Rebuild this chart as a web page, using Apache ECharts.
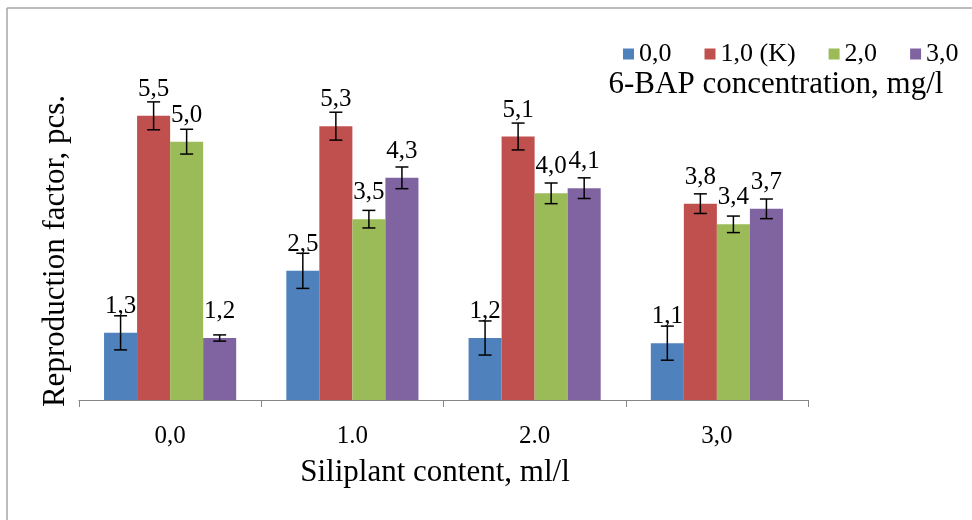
<!DOCTYPE html>
<html>
<head>
<meta charset="utf-8">
<script src="https://cdn.jsdelivr.net/npm/echarts@6/dist/echarts.min.js"></script>
<style>html,body{margin:0;padding:0;background:#fff}#c{width:972px;height:520px}</style>
</head>
<body>
<div id="c"></div>
<script>
const categories = ['0,0', '1.0', '2.0', '3,0'];
const seriesNames = ['0,0', '1,0 (K)', '2,0', '3,0'];
const vals0 = [1.3, 2.5, 1.2, 1.1];
const vals1 = [5.5, 5.3, 5.1, 3.8];
const vals2 = [5.0, 3.5, 4.0, 3.4];
const vals3 = [1.2, 4.3, 4.1, 3.7];
const err0 = [0.33, 0.34, 0.33, 0.33];
const err1 = [0.27, 0.27, 0.26, 0.19];
const err2 = [0.24, 0.17, 0.20, 0.16];
const err3 = [0.06, 0.21, 0.20, 0.19];

const values = [vals0, vals1, vals2, vals3];
const errors = [err0, err1, err2, err3];
const colors = ['#4F81BD', '#C0504D', '#9BBB59', '#8064A2'];
const GAP = 0.275;
const SERIF = '"Liberation Serif", "Times New Roman", serif';

function errRender(si) {
  return function (params, api) {
    const cat = api.value(0);
    const lo = api.coord([cat, api.value(1)]);
    const hi = api.coord([cat, api.value(2)]);
    const catW = api.size([1, 0])[0];
    const bw = catW * (1 - GAP) / 4;
    const x = lo[0] - 2 * bw + (si + 0.5) * bw;
    const cap = 6.5;
    const st = { stroke: '#000', lineWidth: 1.5 };
    return {
      type: 'group',
      children: [
        { type: 'line', shape: { x1: x, y1: hi[1], x2: x, y2: lo[1] }, style: st },
        { type: 'line', shape: { x1: x - cap, y1: hi[1], x2: x + cap, y2: hi[1] }, style: st },
        { type: 'line', shape: { x1: x - cap, y1: lo[1], x2: x + cap, y2: lo[1] }, style: st }
      ]
    };
  };
}

const series = [];
values.forEach((v, si) => {
  series.push({
    type: 'bar',
    name: seriesNames[si],
    data: v,
    barGap: '0%',
    barCategoryGap: (GAP * 100) + '%',
    itemStyle: { color: colors[si] },
    label: {
      show: true,
      position: 'top',
      distance: 14,
      color: '#000',
      fontFamily: SERIF,
      fontSize: 25,
      formatter: p => p.value.toFixed(1).replace('.', ',')
    }
  });
});
values.forEach((v, si) => {
  series.push({
    type: 'custom',
    name: seriesNames[si] + ' err',
    renderItem: errRender(si),
    data: v.map((val, i) => [i, val - errors[si][i], val + errors[si][i]]),
    encode: { x: 0, y: [1, 2] },
    z: 10,
    silent: true
  });
});

const chart = echarts.init(document.getElementById('c'));
chart.setOption({
  animation: false,
  backgroundColor: '#fff',
  grid: { left: 79, right: 164, top: 90, bottom: 120, containLabel: false },
  legend: {
    data: seriesNames,
    left: 618,
    top: 36,
    icon: 'rect',
    itemWidth: 11,
    itemHeight: 11,
    itemGap: 33,
    textStyle: { fontFamily: SERIF, fontSize: 26, color: '#000' }
  },
  xAxis: {
    type: 'category',
    data: categories,
    axisLine: { lineStyle: { color: '#868686', width: 1 } },
    axisTick: { show: true, length: 7, lineStyle: { color: '#868686' } },
    axisLabel: { margin: 24, color: '#000', fontFamily: SERIF, fontSize: 25 },
    splitLine: { show: false }
  },
  yAxis: {
    type: 'value',
    min: 0,
    max: 6,
    interval: 1,
    axisLine: { show: false },
    axisTick: { show: false },
    axisLabel: { show: false },
    splitLine: { show: false }
  },
  graphic: [
    { type: 'line', shape: { x1: 7, y1: 8, x2: 972, y2: 8 }, style: { stroke: '#a6a6a6', lineWidth: 1.5 } },
    { type: 'line', shape: { x1: 7, y1: 8, x2: 7, y2: 520 }, style: { stroke: '#a6a6a6', lineWidth: 1.5 } },
    { type: 'text', x: 56, y: 251, rotation: Math.PI / 2,
      style: { text: 'Reproduction factor, pcs.', font: '31px ' + SERIF, fill: '#000', textAlign: 'center', textVerticalAlign: 'middle' } },
    { type: 'text', x: 435, y: 473,
      style: { text: 'Siliplant content, ml/l', font: '31px ' + SERIF, fill: '#000', textAlign: 'center', textVerticalAlign: 'middle' } },
    { type: 'text', x: 776, y: 85,
      style: { text: '6-BAP concentration, mg/l', font: '31px ' + SERIF, fill: '#000', textAlign: 'center', textVerticalAlign: 'middle' } }
  ],
  series: series
});
</script>
</body>
</html>
